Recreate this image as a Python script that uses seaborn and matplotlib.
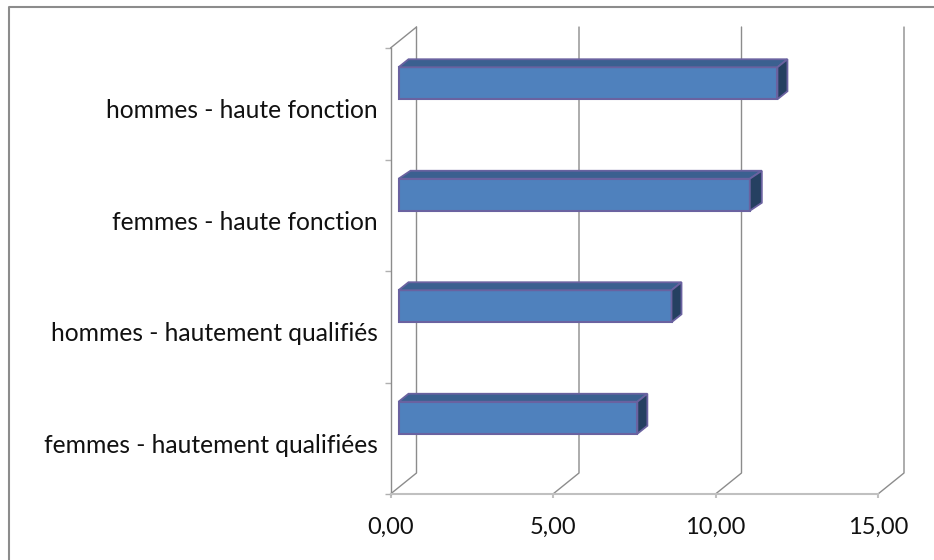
import matplotlib
matplotlib.use("Agg")
import matplotlib.pyplot as plt
from matplotlib.lines import Line2D
from matplotlib.patches import Polygon
from matplotlib.transforms import ScaledTranslation, IdentityTransform
import numpy as np
import pandas as pd
import seaborn as sns

#------------------data-------------------
categories = ["hommes - haute fonction", "femmes - haute fonction",
              "hommes - hautement qualifiés", "femmes - hautement qualifiées"]
values = [11.66, 10.81, 8.40, 7.35]
x_ticks = [0, 5, 10, 15]
x_tick_labels = ["0,00", "5,00", "10,00", "15,00"]

#------------------colours / fake 3d-------------------
FRONT = "#4f81bd"
TOP = "#3b6090"
SIDE = "#254061"
EDGE = "#6a62a0"
GRID = "#8c8c8c"
WALL = (26, 21)      # depth of the back wall, pixels
BAR_SHIFT = (8, 20.5)  # front face of the bars sits inside the box
BAR_DEPTH = [(10, 8), (12, 8), (10, 8), (10, 8)]

sns.set_style("white")
plt.rcParams["font.family"] = ["Lato", "DejaVu Sans"]

fig = plt.figure(figsize=(9.34, 5.6), dpi=100)
# frame of the chart: only left and top fall inside the picture
fig.add_artist(Line2D([8.5, 8.5, 934], [0, 553.5, 553.5], color=GRID, linewidth=1.5,
                      transform=IdentityTransform()))
ax = fig.add_axes([390.5 / 934, (560 - 494) / 560, 487.5 / 934, 446 / 560])

df = pd.DataFrame({"categorie": categories, "valeur": values})
sns.barplot(data=df, x="valeur", y="categorie", orient="h", color=FRONT, saturation=1,
            width=32 / 111.5, edgecolor=EDGE, linewidth=1.5, zorder=3, ax=ax)

ax.set_xlim(0, 15)
ax.set_ylim(3.5, -0.5)
ax.set_xlabel("")
ax.set_ylabel("")
ax.set_xticks(x_ticks)
ax.set_xticklabels(x_tick_labels, fontsize=17)
ax.set_yticks(range(len(categories)))
ax.set_yticklabels(categories, fontsize=17.7)
ax.set_yticks(np.arange(-0.5, 4), minor=True)
ax.tick_params(axis="y", which="major", length=0, pad=9)
ax.tick_params(axis="y", which="minor", length=4, width=1, color="#b0b0b0", left=True)
ax.tick_params(axis="x", length=3, width=1.5, color="#c0c0c0", bottom=True, pad=13.5)
sns.despine(ax=ax)
ax.spines["left"].set_color(GRID)
ax.spines["left"].set_linewidth(1)
ax.spines["bottom"].set_color("#c0c0c0")
ax.spines["bottom"].set_linewidth(1.5)

# labels sit a bit under the middle of their slot
for lab in ax.get_yticklabels():
    lab.set_transform(lab.get_transform() + ScaledTranslation(0, -3.5 / 72, fig.dpi_scale_trans))
    lab.set_color("#111111")
for lab in ax.get_xticklabels():
    lab.set_color("#111111")


def line(xs, ys, color=GRID, lw=1.0, z=1):
    ax.add_line(Line2D(xs, ys, color=color, linewidth=lw, zorder=z, clip_on=False,
                       transform=IdentityTransform()))


# back wall gridlines and the little depth lines
for t in x_ticks:
    x0, y0 = ax.transData.transform((t, 3.5))
    x1, y1 = ax.transData.transform((t, -0.5))
    line([x0, x0 + WALL[0], x0 + WALL[0]], [y0, y0 + WALL[1], y1 + WALL[1]])
x0, y1 = ax.transData.transform((0, -0.5))
line([x0, x0 + WALL[0]], [y1, y1 + WALL[1]])

# move the bars and build their top and side faces
for bar, (dx, dy) in zip(list(ax.patches), BAR_DEPTH):
    l, b, w, h = bar.get_x(), bar.get_y(), bar.get_width(), bar.get_height()
    (xa, ya), (xb, yb) = ax.transData.transform([(l, b + h), (l + w, b)])
    xa, xb = xa + BAR_SHIFT[0], xb + BAR_SHIFT[0]
    ya, yb = ya + BAR_SHIFT[1], yb + BAR_SHIFT[1]
    # ya = lower edge, yb = upper edge on screen
    bar.set_transform(ax.transData + ScaledTranslation(BAR_SHIFT[0] / 100, BAR_SHIFT[1] / 100,
                                                       fig.dpi_scale_trans))
    bar.set_clip_on(False)
    top = [(xa, yb), (xb, yb), (xb + dx, yb + dy), (xa + dx, yb + dy)]
    side = [(xb, ya), (xb, yb), (xb + dx, yb + dy), (xb + dx, ya + dy)]
    for pts, col in ((top, TOP), (side, SIDE)):
        ax.add_patch(Polygon(pts, closed=True, facecolor=col, edgecolor=EDGE, linewidth=1.3,
                             zorder=3, clip_on=False, transform=IdentityTransform()))

fig.savefig("out.png", dpi=100)
